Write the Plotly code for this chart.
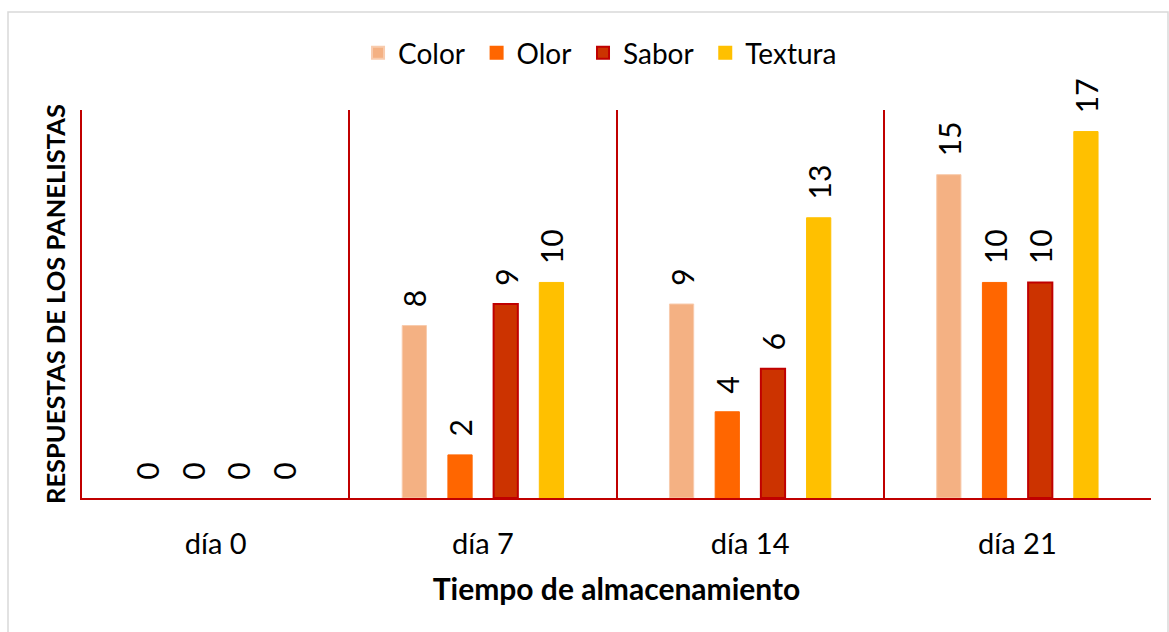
import plotly.graph_objects as go

categories = ["día 0", "día 7", "día 14", "día 21"]
series_names = ["Color", "Olor", "Sabor", "Textura"]
color_vals = [0, 8, 9, 15]
olor_vals = [0, 2, 4, 10]
sabor_vals = [0, 9, 6, 10]
textura_vals = [0, 10, 13, 17]

values = [color_vals, olor_vals, sabor_vals, textura_vals]
fills = ["#F4B183", "#FF6600", "#CC3300", "#FFC000"]
edges = ["#F8CBAD", "#FF6600", "#C00000", "#FFC000"]
edge_w = [1, 1, 2, 1]

FONT = "Lato"
AXIS_RED = "#C00000"

xpos = list(range(len(categories)))

fig = go.Figure()
for i, (name, vals, fc, ec, ew) in enumerate(zip(series_names, values, fills, edges, edge_w)):
    label = name + ("\u00a0" if i < len(series_names) - 1 else "")
    fig.add_trace(go.Bar(
        x=xpos, y=vals, name=label,
        marker=dict(color=fc, line=dict(color=ec, width=[ew if v else 0 for v in vals])),
        text=vals, texttemplate="\u00a0\u00a0%{y}",
        textposition="outside", textangle=-90,
        constraintext="none", cliponaxis=False,
        textfont=dict(family=FONT, size=30, color="#000000"),
    ))

boundaries = [i - 0.5 for i in range(len(categories) + 1)]

fig.update_layout(
    barmode="group", bargap=0.316, bargroupgap=0.47,
    width=1169, height=632,
    margin=dict(l=82, r=18, t=110, b=134),
    paper_bgcolor="white", plot_bgcolor="white",
    font=dict(family=FONT, color="#000000"),
    showlegend=True,
    legend=dict(orientation="h", x=0.4846, xanchor="center", y=1.147, yanchor="middle",
                font=dict(family=FONT, size=28), traceorder="normal",
                itemsizing="constant"),
    xaxis=dict(
        range=[-0.5, len(categories) - 0.5],
        tickvals=xpos, ticktext=categories,
        tickfont=dict(family=FONT, size=29),
        showgrid=False, zeroline=False,
        showline=True, linecolor=AXIS_RED, linewidth=1.5,
        ticks="", ticklabelstandoff=19,
        minor=dict(tickvals=boundaries, showgrid=True, gridcolor=AXIS_RED, gridwidth=1.5, ticks=""),
        title=dict(text="<b>Tiempo de almacenamiento</b>", font=dict(family=FONT, size=30), standoff=20),
    ),
    yaxis=dict(
        range=[0, 18], showgrid=False, zeroline=False,
        showticklabels=False, ticks="",
        showline=True, linecolor=AXIS_RED, linewidth=1.5,
        title=dict(text="<b>RESPUESTAS DE LOS PANELISTAS</b>", font=dict(family=FONT, size=25.5), standoff=7),
    ),
    shapes=[dict(type="rect", xref="paper", yref="paper",
                 x0=(8 - 82) / 1069, x1=(1168 - 82) / 1069,
                 y0=(498 - 640) / 388, y1=(498 - 12) / 388,
                 line=dict(color="#D9D9D9", width=1.5), fillcolor="rgba(0,0,0,0)", layer="below")],
)

fig.write_html("out.html")
